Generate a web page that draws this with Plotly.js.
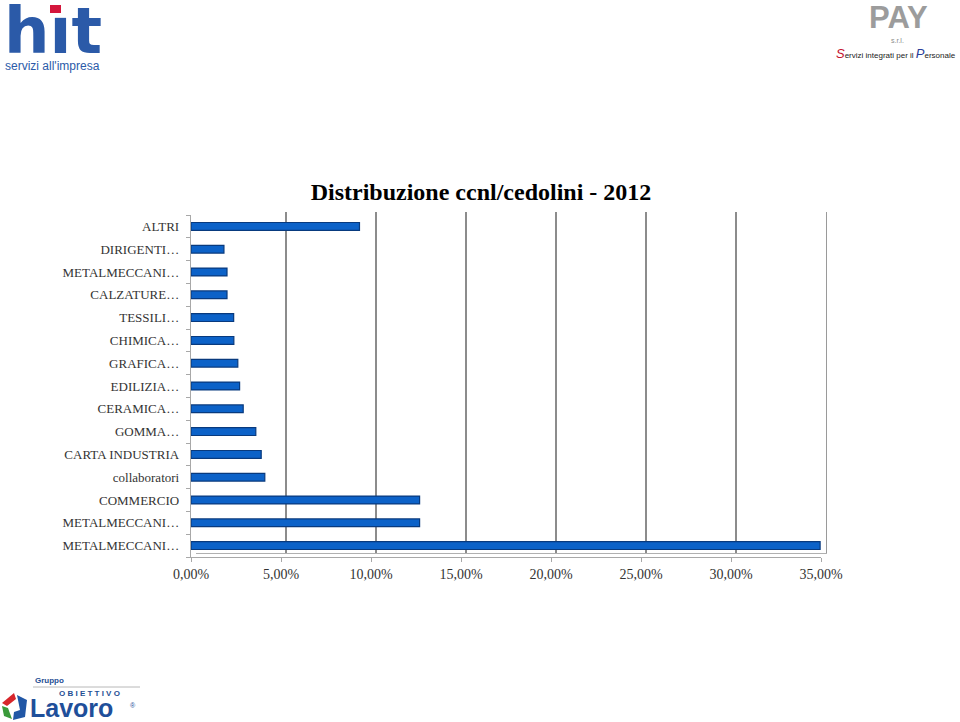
<!DOCTYPE html>
<html>
<head>
<meta charset="utf-8">
<script src="https://cdn.plot.ly/plotly-3.0.1.min.js"></script>
<style>html,body{margin:0;padding:0;background:#fff;}#chart{width:960px;height:722px;}</style>
</head>
<body>
<div id="chart"></div>
<script>
// ---- data (top to bottom) ----
const categoryLabels = [
  "ALTRI", "DIRIGENTI\u2026", "METALMECCANI\u2026", "CALZATURE\u2026", "TESSILI\u2026",
  "CHIMICA\u2026", "GRAFICA\u2026", "EDILIZIA\u2026", "CERAMICA\u2026", "GOMMA\u2026",
  "CARTA INDUSTRIA", "collaboratori", "COMMERCIO", "METALMECCANI\u2026", "METALMECCANI\u2026"
];
const shareValues = [
  0.0936, 0.0183, 0.0200, 0.0200, 0.0237,
  0.0238, 0.0260, 0.0270, 0.0290, 0.0360,
  0.0390, 0.0410, 0.1270, 0.1270, 0.3495
];
const xTickValues = [0, 0.05, 0.10, 0.15, 0.20, 0.25, 0.30, 0.35];
const chartTitle = "Distribuzione ccnl/cedolini - 2012";

const W = 960, H = 722;
const px = v => v / W, py = v => 1 - v / H;

const rowIndex = categoryLabels.map((_, i) => i);
const boundaries = categoryLabels.map((_, i) => i - 0.5).concat([categoryLabels.length - 0.5]);

const serif = "Liberation Serif, Times New Roman, serif";
const sans = "Liberation Sans, Arial, sans-serif";

const traces = [
  // back wall subplot (grid only)
  {type: "scatter", x: [], y: [], xaxis: "x", yaxis: "y", showlegend: false, hoverinfo: "skip"},
  // bars on front subplot
  {
    type: "bar", orientation: "h",
    x: shareValues, y: rowIndex,
    xaxis: "x2", yaxis: "y2",
    width: 0.34,
    marker: {color: "#0c62c8", line: {color: "#083a7e", width: 1.2}},
    showlegend: false
  }
];

const layout = {
  width: W, height: H,
  margin: {l: 0, r: 0, t: 0, b: 0},
  paper_bgcolor: "#ffffff",
  plot_bgcolor: "rgba(0,0,0,0)",
  separators: ",.",
  showlegend: false,
  title: {
    text: "<b>" + chartTitle + "</b>",
    font: {family: serif, size: 24, color: "#000000"},
    x: 481 / W, xref: "paper", xanchor: "center",
    y: py(192), yref: "container", yanchor: "middle"
  },
  // back wall
  xaxis: {
    domain: [px(196), px(826)], anchor: "y",
    range: [0, 0.35], tickmode: "array", tickvals: xTickValues,
    showgrid: true, gridcolor: "#8c8c8c", gridwidth: 1.4,
    showticklabels: false, ticks: "", zeroline: false,
    showline: true, linecolor: "#b0b0b0", linewidth: 1,
    fixedrange: true
  },
  yaxis: {
    domain: [py(553), py(212)], anchor: "x", side: "right",
    range: [0, 1], showgrid: false, showticklabels: false, ticks: "",
    zeroline: false, showline: true, linecolor: "#9a9a9a", linewidth: 1.2,
    fixedrange: true
  },
  // front axes
  xaxis2: {
    domain: [px(191), px(821)], anchor: "y2",
    range: [0, 0.35], tickmode: "array", tickvals: xTickValues,
    tickformat: ".2%",
    showgrid: false, zeroline: false,
    showline: true, linecolor: "#a8a8a8", linewidth: 1,
    ticks: "outside", ticklen: 4, tickcolor: "#a8a8a8",
    tickfont: {family: serif, size: 14, color: "#333333"},
    fixedrange: true
  },
  yaxis2: {
    domain: [py(557), py(215)], anchor: "x2",
    range: [categoryLabels.length - 0.5, -0.5],
    tickmode: "array", tickvals: rowIndex, ticktext: categoryLabels,
    ticks: "", ticklabelstandoff: 8,
    minor: {tickmode: "array", tickvals: boundaries, ticks: "outside", ticklen: 4, tickcolor: "#a8a8a8", showgrid: false},
    showgrid: false, zeroline: false,
    showline: true, linecolor: "#a8a8a8", linewidth: 1.2,
    tickfont: {family: serif, size: 13, color: "#333333"},
    fixedrange: true
  },
  shapes: [
    // red dot of the "hit" logo
    {type: "rect", xref: "paper", yref: "paper", x0: px(50), x1: px(61), y0: py(13), y1: py(5), fillcolor: "#d4163c", line: {width: 0}},
    // Obiettivo Lavoro separator line
    {type: "line", xref: "paper", yref: "paper", x0: px(33), x1: px(140), y0: py(687), y1: py(687), line: {color: "#b8b8b8", width: 1}},
    // Obiettivo Lavoro icon (approximate)
    {type: "path", xref: "paper", yref: "paper", path: `M ${px(2)} ${py(703)} L ${px(14)} ${py(693)} L ${px(16)} ${py(699)} L ${px(7)} ${py(706)} Z`, fillcolor: "#d7262b", line: {width: 0}},
    {type: "path", xref: "paper", yref: "paper", path: `M ${px(2)} ${py(706)} L ${px(8)} ${py(708)} L ${px(12)} ${py(719)} L ${px(4)} ${py(716)} Z`, fillcolor: "#3a9a3a", line: {width: 0}},
    {type: "path", xref: "paper", yref: "paper", path: `M ${px(17)} ${py(695)} L ${px(27)} ${py(700)} L ${px(25)} ${py(717)} L ${px(13)} ${py(720)} L ${px(14)} ${py(712)} L ${px(20)} ${py(710)} Z`, fillcolor: "#2157a6", line: {width: 0}}
  ],
  annotations: [
    // hit logo
    {xref: "paper", yref: "paper", x: px(2), y: py(31), xanchor: "left", yanchor: "middle", showarrow: false,
     text: "<b>h\u0131t</b>", font: {family: "DejaVu Sans, sans-serif", size: 64, color: "#2b5aa8"}},
    {xref: "paper", yref: "paper", x: px(3), y: py(66), xanchor: "left", yanchor: "middle", showarrow: false,
     text: "servizi all'impresa", font: {family: sans, size: 12, color: "#2b5aa8"}},
    // PAY logo
    {xref: "paper", yref: "paper", x: px(898), y: py(18), xanchor: "center", yanchor: "middle", showarrow: false,
     text: "<b>PAY</b>", font: {family: sans, size: 31, color: "#9c9c9c"}},
    {xref: "paper", yref: "paper", x: px(897), y: py(40), xanchor: "center", yanchor: "middle", showarrow: false,
     text: "s.r.l.", font: {family: sans, size: 7, color: "#8a8a8a"}},
    {xref: "paper", yref: "paper", x: px(896), y: py(54), xanchor: "center", yanchor: "middle", showarrow: false,
     text: "<span style='color:#c4122e;font-size:13px;font-style:italic'>S</span>ervizi integrati per il <span style='color:#2a3f9a;font-size:13px;font-style:italic'>P</span>ersonale",
     font: {family: sans, size: 8, color: "#222222"}},
    // Obiettivo Lavoro logo
    {xref: "paper", yref: "paper", x: px(33), y: py(680), xanchor: "left", yanchor: "middle", showarrow: false,
     text: "<b>Gruppo</b>", font: {family: sans, size: 8, color: "#1f4f94"}},
    {xref: "paper", yref: "paper", x: px(57), y: py(693), xanchor: "left", yanchor: "middle", showarrow: false,
     text: "<b>O B I E T T I V O</b>", font: {family: sans, size: 8, color: "#1f4f94"}},
    {xref: "paper", yref: "paper", x: px(28), y: py(708), xanchor: "left", yanchor: "middle", showarrow: false,
     text: "<b>Lavoro</b>", font: {family: sans, size: 25, color: "#1f4f9a"}},
    {xref: "paper", yref: "paper", x: px(128), y: py(705), xanchor: "left", yanchor: "middle", showarrow: false,
     text: "\u00ae", font: {family: sans, size: 7, color: "#1f4f9a"}}
  ]
};

Plotly.newPlot("chart", traces, layout, {displayModeBar: false, staticPlot: true});
</script>
</body>
</html>
